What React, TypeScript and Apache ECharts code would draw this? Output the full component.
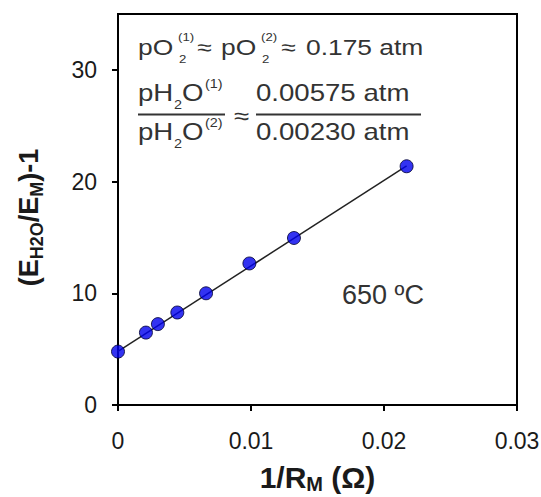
import React, { useEffect, useRef } from "react";
import * as echarts from "echarts";

const xValues = [0, 0.0021, 0.003, 0.00446, 0.00662, 0.00988, 0.01323, 0.0217];
const yValues = [4.78, 6.48, 7.24, 8.28, 10.0, 12.67, 14.95, 21.37];
const fitX = [0, 0.0217];
const fitY = [4.8, 21.4];
const xTicks = [0, 0.01, 0.02, 0.03];
const yTicks = [0, 10, 20, 30];
const tempLabel = "650 ºC";
const line1 = { a: "pO", sup1: "(1)", sub: "2", eq: "≈", b: "pO", sup2: "(2)", val: "0.175 atm" };
const fracLeft = { base: "pH", sub: "2", o: "O", supTop: "(1)", supBottom: "(2)" };
const fracRight = { top: "0.00575 atm", bottom: "0.00230 atm" };

const FONT = "'Liberation Sans', Arial, sans-serif";
const TXT = "#333";

function t(text: string, x: number, y: number, size: number, sx = 1.2, extra: any = {}) {
  return {
    type: "text",
    x,
    y,
    scaleX: sx,
    style: {
      text,
      fontFamily: FONT,
      fontSize: size,
      fill: TXT,
      align: "left",
      verticalAlign: "middle",
      ...extra,
    },
  };
}

export default function App() {
  const ref = useRef<HTMLDivElement>(null);
  useEffect(() => {
    if (!ref.current) return;
    const chart = echarts.init(ref.current, null, { renderer: "svg" });
    const scatterData = xValues.map((x, i) => [x, yValues[i]]);
    const fitData = fitX.map((x, i) => [x, fitY[i]]);
    const graphics: any[] = [
      // line 1
      t(line1.a, 138, 47, 22),
      t(line1.sup1, 178, 37, 11),
      t(line1.sub, 179, 59, 11),
      t(line1.eq, 197, 47, 22),
      t(line1.b, 221, 47, 22),
      t(line1.sup2, 261, 37, 11),
      t(line1.sub, 262, 59, 11),
      t(line1.eq, 281, 47, 22),
      t(line1.val, 306, 47, 22),
      // left fraction numerator
      t(fracLeft.base, 138, 93, 23),
      t(fracLeft.sub, 174, 105, 12),
      t(fracLeft.o, 182, 93, 23),
      t(fracLeft.supTop, 205, 84, 12),
      // denominator
      t(fracLeft.base, 138, 132, 23),
      t(fracLeft.sub, 174, 144, 12),
      t(fracLeft.o, 182, 132, 23),
      t(fracLeft.supBottom, 205, 123, 12),
      {
        type: "line",
        shape: { x1: 138, y1: 114.5, x2: 225, y2: 114.5 },
        style: { stroke: TXT, lineWidth: 2 },
      },
      t(line1.eq, 234, 116, 23),
      t(fracRight.top, 256, 93, 23),
      t(fracRight.bottom, 256, 132, 23),
      {
        type: "line",
        shape: { x1: 256, y1: 114.5, x2: 421, y2: 114.5 },
        style: { stroke: TXT, lineWidth: 2 },
      },
      t(tempLabel, 342, 295, 27, 1),
    ];

    chart.setOption({
      animation: false,
      backgroundColor: "#fff",
      grid: {
        left: 118,
        right: 24,
        top: 14,
        bottom: 92,
        show: true,
        borderColor: "#000",
        borderWidth: 2,
        containLabel: false,
        outerBoundsMode: "none",
      },
      xAxis: {
        type: "value",
        min: xTicks[0],
        max: xTicks[xTicks.length - 1],
        interval: 0.01,
        splitLine: { show: false },
        axisLine: { show: true, onZero: false, lineStyle: { color: "#000", width: 2 } },
        axisTick: { show: true, inside: false, length: 6, lineStyle: { color: "#000", width: 2 } },
        axisLabel: {
          margin: 24,
          fontFamily: FONT,
          fontSize: 23,
          color: "#1a1a1a",
          formatter: (v: number) => String(Number(v.toFixed(3))),
        },
        name: "{m|1/R}{s|M}{m| (Ω)}",
        nameLocation: "middle",
        nameGap: 55,
        nameTextStyle: {
          rich: {
            m: { fontFamily: FONT, fontSize: 30, fontWeight: "bold", color: "#1a1a1a", lineHeight: 32 },
            s: { fontFamily: FONT, fontSize: 20, fontWeight: "bold", color: "#1a1a1a", padding: [14, 0, 0, 0] },
          },
        },
      },
      yAxis: {
        type: "value",
        min: 0,
        max: 35,
        interval: 10,
        splitLine: { show: false },
        axisLine: { show: true, onZero: false, lineStyle: { color: "#000", width: 2 } },
        axisTick: { show: true, inside: false, length: 6, lineStyle: { color: "#000", width: 2 } },
        axisLabel: {
          margin: 21,
          fontFamily: FONT,
          fontSize: 23,
          color: "#1a1a1a",
          showMaxLabel: false,
          formatter: (v: number) => (yTicks.includes(v) ? String(v) : ""),
        },
        name: "{m|(E}{s|H2O}{m|/E}{s|M}{m|)-1}",
        nameLocation: "middle",
        nameGap: 72,
        nameTextStyle: {
          padding: [0, 16, 0, 0],
          rich: {
            m: { fontFamily: FONT, fontSize: 27, fontWeight: "bold", color: "#1a1a1a", lineHeight: 32 },
            s: { fontFamily: FONT, fontSize: 18, fontWeight: "bold", color: "#1a1a1a", padding: [16, 0, 0, 0] },
          },
        },
      },
      series: [
        {
          type: "line",
          data: fitData,
          symbol: "none",
          lineStyle: { color: "#222", width: 1.5 },
          z: 2,
        },
        {
          type: "scatter",
          data: scatterData,
          symbol: "circle",
          symbolSize: 13,
          itemStyle: { color: "#0000ee", borderColor: "#000030", borderWidth: 1 },
          z: 3,
        },
      ],
      graphic: graphics,
    });
    return () => chart.dispose();
  }, []);
  return (
    <div
      ref={ref}
      style={{ position: "fixed", left: 0, top: 0, width: 541, height: 497 }}
    />
  );
}
